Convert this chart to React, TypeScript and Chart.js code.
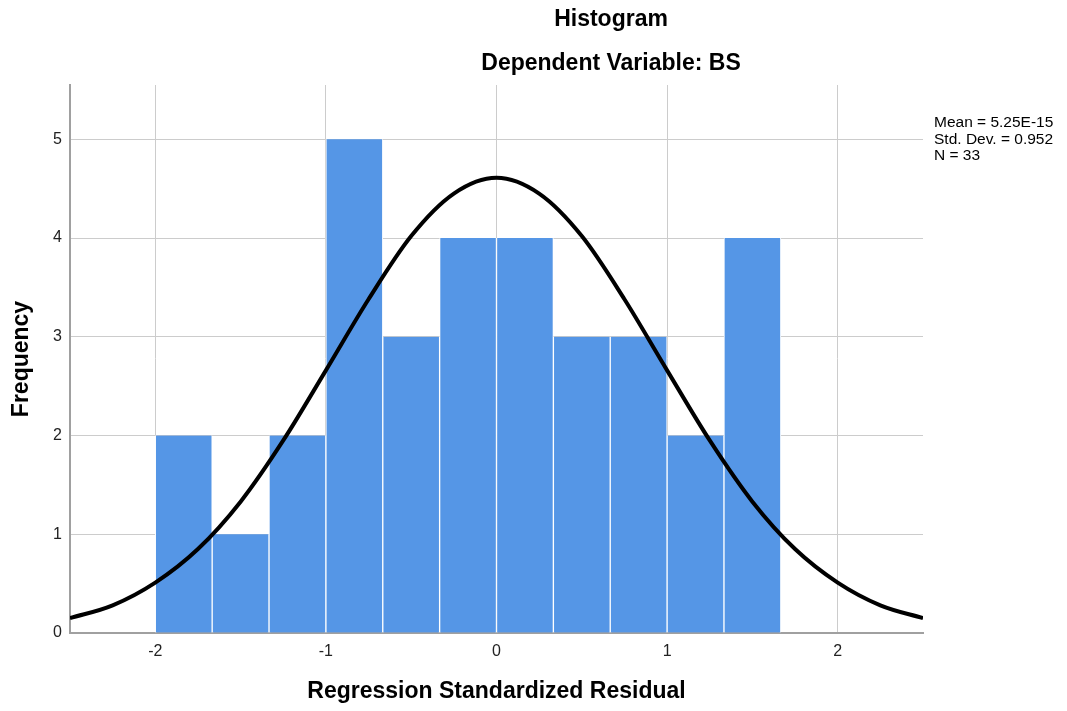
import React, { useEffect, useRef } from "react";
import { Chart, registerables } from "chart.js";

Chart.register(...registerables);

// Histogram bins (centers) and counts
const binCenters = [-1.8333, -1.5, -1.1667, -0.8333, -0.5, -0.1667, 0.1667, 0.5, 0.8333, 1.1667, 1.5];
const binCounts = [2, 1, 2, 5, 3, 4, 4, 3, 3, 2, 4];

// Normal curve points
const curveX = [-2.5, -2.25, -2, -1.75, -1.5, -1.25, -1, -0.75, -0.5, -0.25, 0, 0.25, 0.5, 0.75, 1, 1.25, 1.5, 1.75, 2, 2.25, 2.5];
const curveY = [0.15, 0.28, 0.51, 0.85, 1.33, 1.95, 2.66, 3.38, 4.02, 4.45, 4.61, 4.45, 4.02, 3.38, 2.66, 1.95, 1.33, 0.85, 0.51, 0.28, 0.15];

const xTicks = [-2, -1, 0, 1, 2];
const yTicks = [0, 1, 2, 3, 4, 5];

const titleLines = ["Histogram", "Dependent Variable: BS"];
const statLines = ["Mean = 5.25E-15", "Std. Dev. = 0.952", "N = 33"];
const xTitle = "Regression Standardized Residual";
const yTitle = "Frequency";

const FONT = "'Liberation Sans', Arial, sans-serif";

export default function App() {
  const ref = useRef<HTMLCanvasElement | null>(null);

  useEffect(() => {
    document.body.style.margin = "0";
    const canvas = ref.current;
    if (!canvas) return;

    const textPlugin = {
      id: "textPlugin",
      afterDraw(chart: any) {
        const ctx = chart.ctx;
        const area = chart.chartArea;
        ctx.save();
        ctx.fillStyle = "#000";
        ctx.textBaseline = "middle";
        ctx.textAlign = "center";
        ctx.font = `bold 23px ${FONT}`;
        ctx.fillText(titleLines[0], 611, 20);
        ctx.fillText(titleLines[1], 611, 64);
        ctx.fillText(xTitle, (area.left + area.right) / 2, 692);
        ctx.save();
        ctx.translate(22, (area.top + area.bottom) / 2);
        ctx.rotate(-Math.PI / 2);
        ctx.fillText(yTitle, 0, 0);
        ctx.restore();
        ctx.textAlign = "left";
        ctx.font = `15.5px ${FONT}`;
        statLines.forEach((s, i) => ctx.fillText(s, 934, 123 + i * 16.3));
        ctx.restore();
      },
    };

    const chart = new Chart(canvas, {
      type: "bar",
      data: {
        datasets: [
          {
            type: "line",
            data: curveX.map((x, i) => ({ x, y: curveY[i] })),
            borderColor: "#000",
            borderWidth: 4,
            pointRadius: 0,
            cubicInterpolationMode: "monotone",
            fill: false,
            order: 0,
          } as any,
          {
            type: "bar",
            data: binCenters.map((x, i) => ({ x, y: binCounts[i] })),
            backgroundColor: "#5596E6",
            borderColor: "#ffffff",
            borderWidth: { left: 1, right: 1, top: 0, bottom: 0 },
            borderSkipped: false,
            barPercentage: 1,
            categoryPercentage: 1,
            order: 1,
          } as any,
        ],
      },
      options: {
        responsive: false,
        animation: false,
        layout: { padding: { top: 85, right: 144, left: 0, bottom: 0 } },
        plugins: {
          legend: { display: false },
          title: { display: false },
          tooltip: { enabled: false },
        },
        scales: {
          x: {
            type: "linear",
            min: -2.5,
            max: 2.5,
            offset: false,
            afterBuildTicks: (s: any) => {
              s.ticks = xTicks.map((v) => ({ value: v }));
            },
            afterFit: (s: any) => {
              s.height = 78;
            },
            grid: { color: "#cccccc", lineWidth: 1, drawTicks: false, offset: false },
            border: { color: "#a0a0a0", width: 2 },
            ticks: {
              padding: 9,
              color: "#222",
              font: { family: FONT, size: 16 },
              callback: (v: any) => String(v),
            },
          },
          y: {
            type: "linear",
            min: 0,
            max: 5.55,
            afterBuildTicks: (s: any) => {
              s.ticks = yTicks.map((v) => ({ value: v }));
            },
            afterFit: (s: any) => {
              s.width = 70;
            },
            grid: { color: "#cccccc", lineWidth: 1, drawTicks: false },
            border: { color: "#a0a0a0", width: 2 },
            ticks: {
              padding: 8,
              color: "#222",
              font: { family: FONT, size: 16 },
              callback: (v: any) => String(v),
            },
          },
        },
      },
      plugins: [textPlugin],
    });
    return () => chart.destroy();
  }, []);

  return (
    <div style={{ width: 1067, height: 711, background: "#fff" }}>
      <canvas ref={ref} width={1067} height={711} />
    </div>
  );
}
